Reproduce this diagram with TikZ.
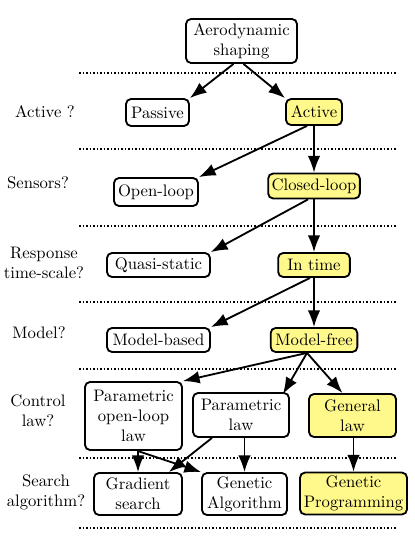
\documentclass[tikz,border=0pt]{standalone}
\usetikzlibrary{arrows.meta,calc}
\begin{document}
\begin{tikzpicture}[x=0.6pt,y=-0.6pt,
  box/.style={draw, rounded corners=3pt, line width=1.1pt, inner sep=2pt, align=center, fill=white},
  sel/.style={box, fill=yellow!45},
  lab/.style={align=center, inner sep=0pt},
  arr/.style={-{Latex[length=10pt,width=7.5pt]}, line width=1.1pt},
  sep/.style={densely dotted, line width=1.1pt}]
\useasboundingbox (0,0) rectangle (415,554);
% separators
\foreach \yy in {73,149,226,302,369,458,528} \draw[sep] (79,\yy) -- (396,\yy);
% labels
\node[lab] (qa) at (45,112) {Active ?};
\node[lab] (qs) at (38,183) {Sensors?};
\node[lab] (qr) at (44,263) {Response\\time-scale?};
\node[lab] (qm) at (39,333) {Model?};
\node[lab] (qc) at (38,411) {Control\\law?};
\node[lab] (qg) at (46,492) {Search\\algorithm?};
% nodes
\node[box, minimum width=66.6pt, minimum height=26.4pt] (aero) at (241.5,41) {Aerodynamic\\shaping};
\node[box, minimum width=37.8pt, minimum height=16.2pt] (passive) at (157.5,112.5) {Passive};
\node[sel, minimum width=33.6pt, minimum height=15.6pt] (active) at (314,112) {Active};
\node[box, minimum width=50.4pt, minimum height=16.8pt] (open) at (156,192) {Open-loop};
\node[sel, minimum width=55pt, minimum height=15pt] (closed) at (314,186) {Closed-loop};
\node[box, minimum width=61.8pt, minimum height=14.4pt] (quasi) at (158.5,265) {Quasi-static};
\node[sel, minimum width=43pt, minimum height=14.4pt] (intime) at (314,265) {In time};
\node[box, minimum width=61.8pt, minimum height=14.4pt] (mb) at (158.5,340) {Model-based};
\node[sel, minimum width=52pt, minimum height=14.4pt] (mf) at (314,340) {Model-free};
\node[box, minimum width=58.2pt, minimum height=40.8pt] (pol) at (133.5,416) {Parametric\\open-loop\\law};
\node[box, minimum width=57.6pt, minimum height=26.4pt] (pl) at (241,415) {Parametric\\law};
\node[sel, minimum width=52.2pt, minimum height=25.8pt] (gl) at (352.5,415.5) {General\\law};
\node[box, minimum width=52.8pt, minimum height=25.2pt] (gs) at (138,494) {Gradient\\search};
\node[box, minimum width=51pt, minimum height=25.2pt] (ga) at (244.5,494) {Genetic\\Algorithm};
\node[sel, minimum width=64.2pt, minimum height=24.6pt] (gp) at (353.5,493.5) {Genetic\\Programming};
% connectors
\draw[arr] ($(aero.south)+(-8,0)$) -- (passive.north east);
\draw[arr] ($(aero.south)+(2,0)$) -- (active.north west);
\draw[arr] ($(active.south)+(-7,0)$) -- (open.north east);
\draw[arr] (active.south) -- (closed.north);
\draw[arr] ($(closed.south)+(-6,0)$) -- (quasi.north east);
\draw[arr] (closed.south) -- (intime.north);
\draw[arr] ($(intime.south)+(-4,0)$) -- (mb.north east);
\draw[arr] (intime.south) -- (mf.north);
\draw[arr] ($(mf.south)+(-7,0)$) -- (pol.north east);
\draw[arr] ($(mf.south)+(-7,0)$) -- ($(pl.north east)+(-7,2)$);
\draw[arr] ($(mf.south)+(-7,0)$) -- ($(gl.north)+(-10,0)$);
\draw[arr] (gs.north |- pol.south) -- (gs.north);
\draw[arr] ($(pol.south)+(4,0)$) -- (ga.north west);
\draw[arr] ($(pl.south)+(-29,0)$) -- ($(gs.north east)+(-14,0)$);
\draw[arr] (ga.north |- pl.south) -- (ga.north);
\draw[arr] (gp.north |- gl.south) -- (gp.north);
\end{tikzpicture}
\end{document}
